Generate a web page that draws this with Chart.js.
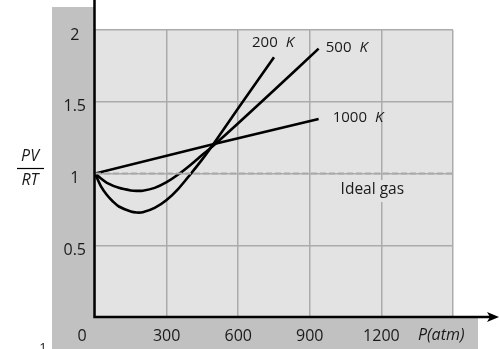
<!DOCTYPE html>
<html>
<head>
<meta charset="utf-8">
<script src="https://cdn.jsdelivr.net/npm/chart.js@4/dist/chart.umd.min.js"></script>
<style>
  html, body { margin: 0; padding: 0; background: #fff; }
  #wrap { width: 499px; height: 349px; position: relative; }
</style>
</head>
<body>
<div id="wrap"><canvas id="chart"></canvas></div>
<script>
// compressibility factor PV/RT against pressure (atm)
const p200 = [0, 25, 50, 75, 100, 150, 175, 200, 250, 300, 350, 400, 450, 500, 600, 750];
const z200 = [1, 0.91, 0.85, 0.805, 0.77, 0.735, 0.728, 0.73, 0.76, 0.815, 0.895, 0.995, 1.1, 1.215, 1.455, 1.81];

const p500 = [0, 25, 50, 100, 150, 175, 200, 250, 300, 350, 400, 450, 500, 600, 750, 937];
const z500 = [1, 0.965, 0.935, 0.9, 0.882, 0.879, 0.88, 0.9, 0.94, 0.995, 1.06, 1.13, 1.2, 1.35, 1.58, 1.87];

const p1000 = [0, 486, 937];
const z1000 = [1, 1.2, 1.38];

const pIdeal = [0, 1500];
const zIdeal = [1, 1];

const xTicks = [0, 300, 600, 900, 1200, 1500];
const yTicks = [0, 0.5, 1, 1.5, 2];

// curve labels: [text, unit, x, y] in data units
const curveLabels = [
  ['200', 'K', 658, 1.91],
  ['500', 'K', 967, 1.875],
  ['1000', 'K', 996, 1.387]
];

const FONT = '"Open Sans", sans-serif';

function pts(xs, ys) {
  return xs.map((x, i) => ({x: x, y: ys[i]}));
}

const backdrop = {
  id: 'backdrop',
  beforeDraw(chart) {
    const ctx = chart.ctx;
    const a = chart.chartArea;
    ctx.save();
    ctx.fillStyle = '#ffffff';
    ctx.fillRect(0, 0, chart.width, chart.height);
    ctx.fillStyle = '#c1c1c1';
    ctx.fillRect(52, 7, a.left - 52, chart.height - 7);
    ctx.fillRect(52, a.bottom, 478 - 52, chart.height - a.bottom);
    ctx.fillStyle = '#e3e3e3';
    ctx.fillRect(a.left, a.top, a.right - a.left, a.bottom - a.top);
    ctx.restore();
  },
  afterDraw(chart) {
    const ctx = chart.ctx;
    const a = chart.chartArea;
    const xs = chart.scales.x, ys = chart.scales.y;
    ctx.save();
    // axes
    ctx.strokeStyle = '#000';
    ctx.lineWidth = 2.5;
    ctx.beginPath();
    ctx.moveTo(a.left - 0.5, 0);
    ctx.lineTo(a.left - 0.5, a.bottom);
    ctx.lineTo(490, a.bottom);
    ctx.stroke();
    ctx.fillStyle = '#000';
    ctx.beginPath();
    ctx.moveTo(499, a.bottom);
    ctx.lineTo(487, a.bottom - 5);
    ctx.lineTo(490, a.bottom);
    ctx.lineTo(487, a.bottom + 5);
    ctx.closePath();
    ctx.fill();

    ctx.fillStyle = '#1a1a1a';
    ctx.textBaseline = 'middle';
    // curve labels
    curveLabels.forEach(l => {
      const x = xs.getPixelForValue(l[2]);
      const y = ys.getPixelForValue(l[3]);
      ctx.font = '15px ' + FONT;
      ctx.textAlign = 'left';
      ctx.fillText(l[0], x, y);
      const w = ctx.measureText(l[0] + ' ').width;
      ctx.font = 'italic 15px ' + FONT;
      ctx.fillText(l[1], x + w + 4, y);
    });
    // ideal gas label on a patch of plot colour
    ctx.font = '15.5px ' + FONT;
    const ix = xs.getPixelForValue(1029), iy = ys.getPixelForValue(0.885);
    const iw = ctx.measureText('Ideal gas').width;
    ctx.fillStyle = '#e3e3e3';
    ctx.fillRect(ix - 2, iy - 10, iw + 4, 22);
    ctx.fillStyle = '#1a1a1a';
    ctx.fillText('Ideal gas', ix, iy);

    // corner zero and x title
    ctx.font = '16px ' + FONT;
    ctx.textAlign = 'center';
    ctx.fillText('0', 82, 336);
    ctx.font = 'italic 16px ' + FONT;
    ctx.textAlign = 'left';
    ctx.fillText('P(atm)', 418, 335);

    // y title as a fraction
    ctx.textAlign = 'center';
    ctx.font = 'italic 16px ' + FONT;
    ctx.fillText('PV', 30, 156);
    ctx.fillText('RT', 30, 180);
    ctx.lineWidth = 1.2;
    ctx.beginPath();
    ctx.moveTo(17, 168.5);
    ctx.lineTo(44, 168.5);
    ctx.stroke();

    ctx.font = '13px ' + FONT;
    ctx.textBaseline = 'top';
    ctx.fillText('1', 43, 342);
    ctx.restore();
  }
};

const lineStyle = {
  borderColor: '#000',
  borderWidth: 2.6,
  pointRadius: 0,
  fill: false,
  tension: 0.3
};

const cfg = {
  type: 'line',
  data: {
    datasets: [
      Object.assign({label: 'Ideal gas', data: pts(pIdeal, zIdeal)}, lineStyle,
        {borderColor: '#a9a9a9', borderWidth: 1.8, borderDash: [6, 3], tension: 0}),
      Object.assign({label: '200 K', data: pts(p200, z200)}, lineStyle),
      Object.assign({label: '500 K', data: pts(p500, z500)}, lineStyle),
      Object.assign({label: '1000 K', data: pts(p1000, z1000)}, lineStyle, {tension: 0})
    ]
  },
  options: {
    responsive: true,
    maintainAspectRatio: false,
    animation: false,
    layout: { padding: { top: 30, right: 46, left: 0, bottom: 0 } },
    plugins: { legend: { display: false }, tooltip: { enabled: false } },
    scales: {
      x: {
        type: 'linear',
        min: 0, max: 1500,
        afterBuildTicks: s => { s.ticks = xTicks.map(v => ({value: v})); },
        afterFit: s => { s.height = 32; },
        grid: { color: '#ababab', lineWidth: 1.5, drawTicks: false },
        border: { display: false },
        ticks: {
          padding: 10,
          color: '#1a1a1a',
          font: { family: FONT, size: 16 },
          maxRotation: 0,
          callback: v => (v === 0 || v === 1500) ? '' : v
        }
      },
      y: {
        min: 0, max: 2,
        afterBuildTicks: s => { s.ticks = yTicks.map(v => ({value: v})); },
        afterFit: s => { s.width = 95; },
        grid: { color: '#ababab', lineWidth: 1.5, drawTicks: false },
        border: { display: false },
        ticks: {
          padding: 9,
          crossAlign: 'center',
          labelOffset: 5,
          color: '#1a1a1a',
          font: { family: FONT, size: 16 },
          callback: v => v === 0 ? '' : v
        }
      }
    }
  },
  plugins: [backdrop]
};

const chart = new Chart(document.getElementById('chart'), cfg);
</script>
</body>
</html>
